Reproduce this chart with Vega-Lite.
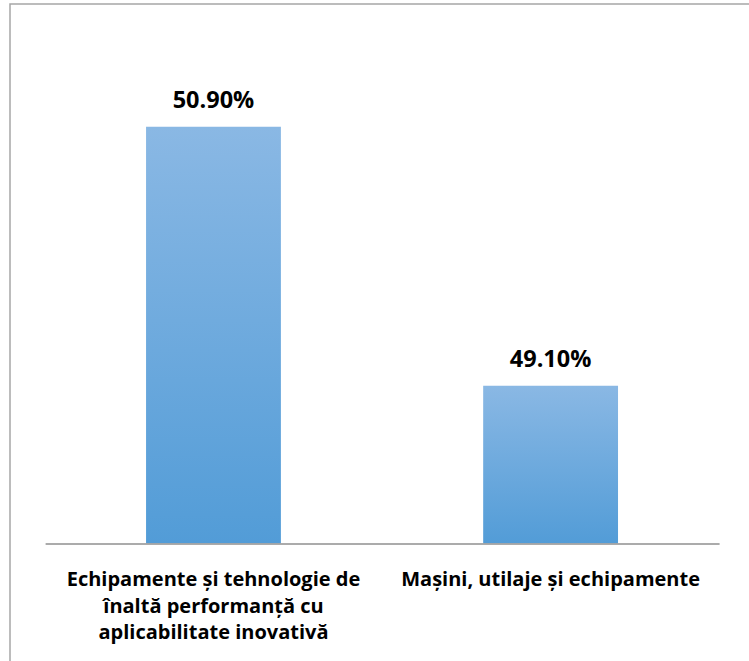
{
  "$schema": "https://vega.github.io/schema/vega-lite/v6.json",
  "width": 759,
  "height": 677,
  "autosize": {"type": "none"},
  "padding": {"left": 10, "top": 4, "right": -20, "bottom": -20},
  "background": "white",
  "config": {"view": {"stroke": "#a6a6a6", "strokeWidth": 1.5}, "font": "Open Sans"},
  "data": {"values": [
    {"category": "Echipamente și tehnologie de înaltă performanță cu aplicabilitate inovativă", "label": "Echipamente și tehnologie de\nînaltă performanță cu\naplicabilitate inovativă", "value": 50.9, "text": "50.90%"},
    {"category": "Mașini, utilaje și echipamente", "label": "Mașini, utilaje și echipamente", "value": 49.1, "text": "49.10%"}
  ]},
  "encoding": {
    "x": {"field": "category", "type": "nominal", "sort": null, "axis": null,
          "scale": {"paddingInner": 0.6, "paddingOuter": 0.4257, "align": 0.474}}
  },
  "layer": [
    {
      "mark": {"type": "bar", "color": {"gradient": "linear", "x1": 0, "y1": 0, "x2": 0, "y2": 1,
        "stops": [{"offset": 0, "color": "#8ab8e4"}, {"offset": 1, "color": "#529cd7"}]}},
      "encoding": {
        "y": {"field": "value", "type": "quantitative", "axis": null,
              "scale": {"domain": [47.048, 51.7526], "nice": false, "zero": false}},
        "y2": {"datum": 48}
      }
    },
    {
      "mark": {"type": "text", "fontSize": 23.5, "fontWeight": "bold", "dy": -19, "baseline": "alphabetic", "color": "#000000"},
      "encoding": {
        "y": {"field": "value", "type": "quantitative"},
        "text": {"field": "text"}
      }
    },
    {
      "mark": {"type": "text", "fontSize": 20, "fontWeight": "bold", "lineBreak": "\n", "lineHeight": 26.5, "baseline": "alphabetic", "dy": 42, "color": "#000000"},
      "encoding": {
        "y": {"datum": 48},
        "text": {"field": "label"}
      }
    },
    {
      "mark": {"type": "rule", "color": "#a6a6a6", "strokeWidth": 1.5},
      "encoding": {
        "x": {"datum": "Echipamente și tehnologie de înaltă performanță cu aplicabilitate inovativă", "bandPosition": -0.744},
        "x2": {"datum": "Mașini, utilaje și echipamente", "bandPosition": 1.752},
        "y": {"datum": 48}
      }
    }
  ]
}
